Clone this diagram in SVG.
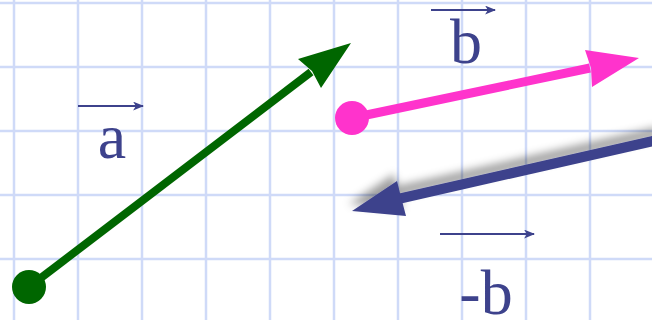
<svg xmlns="http://www.w3.org/2000/svg" width="652" height="320" viewBox="0 0 652 320">
<defs>
<style>
.grid line{stroke:#cfdaf8;stroke-width:2.5}
.lbl{font-family:"Liberation Serif","Times New Roman",serif;font-size:64px;fill:#3d428c;text-anchor:middle}
.vec{stroke:#3d428c;stroke-width:2;fill:none}
</style>
<marker id="sa" viewBox="0 0 10 8" refX="9" refY="4" markerWidth="11" markerHeight="9" markerUnits="userSpaceOnUse" orient="auto">
<path d="M0,0 L10,4 L0,8 L2.5,4 z" fill="#3d428c"/>
</marker>
<filter id="sh" x="-20%" y="-50%" width="140%" height="200%">
<feGaussianBlur in="SourceAlpha" stdDeviation="4.5"/>
<feOffset dx="-3" dy="-7" result="b"/>
<feFlood flood-color="#000" flood-opacity="0.38"/>
<feComposite in2="b" operator="in"/>
<feMerge><feMergeNode/><feMergeNode in="SourceGraphic"/></feMerge>
</filter>
</defs>
<rect width="652" height="320" fill="#fff"/>
<g class="grid">
<line x1="14" y1="0" x2="14" y2="320"/><line x1="78" y1="0" x2="78" y2="320"/><line x1="142" y1="0" x2="142" y2="320"/><line x1="206" y1="0" x2="206" y2="320"/><line x1="270" y1="0" x2="270" y2="320"/><line x1="334" y1="0" x2="334" y2="320"/><line x1="398" y1="0" x2="398" y2="320"/><line x1="462" y1="0" x2="462" y2="320"/><line x1="526" y1="0" x2="526" y2="320"/><line x1="590" y1="0" x2="590" y2="320"/>
<line x1="0" y1="3" x2="652" y2="3"/><line x1="0" y1="67" x2="652" y2="67"/><line x1="0" y1="131" x2="652" y2="131"/><line x1="0" y1="195" x2="652" y2="195"/><line x1="0" y1="259" x2="652" y2="259"/>
</g>
<g id="connectors">
<g id="vec-a">
<line x1="29" y1="287" x2="311" y2="72" stroke="#006600" stroke-width="8"/>
<circle cx="29" cy="287" r="17" fill="#006600"/>
<polygon points="351,43 298,59 312,71 321,88" fill="#006600"/>
</g>
<g id="vec-b">
<line x1="352" y1="118" x2="590" y2="68" stroke="#ff33cc" stroke-width="9"/>
<circle cx="352" cy="118" r="17" fill="#ff33cc"/>
<polygon points="639,58 585,50 591,68 592,87" fill="#ff33cc"/>
</g>
<g id="vec-negb" filter="url(#sh)">
<line x1="662" y1="139" x2="398" y2="199" stroke="#3d428c" stroke-width="10"/>
<polygon points="352,211 397,181 401,197 406,216" fill="#3d428c"/>
</g>
</g>
<g id="label-a">
<line class="vec" x1="78" y1="106" x2="143" y2="106" marker-end="url(#sa)"/>
<text class="lbl" x="112" y="158">a</text>
</g>
<g id="label-b">
<line class="vec" x1="431" y1="10" x2="495" y2="10" marker-end="url(#sa)"/>
<text class="lbl" x="466" y="63">b</text>
</g>
<g id="label-negb">
<line class="vec" x1="440" y1="234" x2="534" y2="234" marker-end="url(#sa)"/>
<text class="lbl" x="486" y="314">-b</text>
</g>
</svg>
